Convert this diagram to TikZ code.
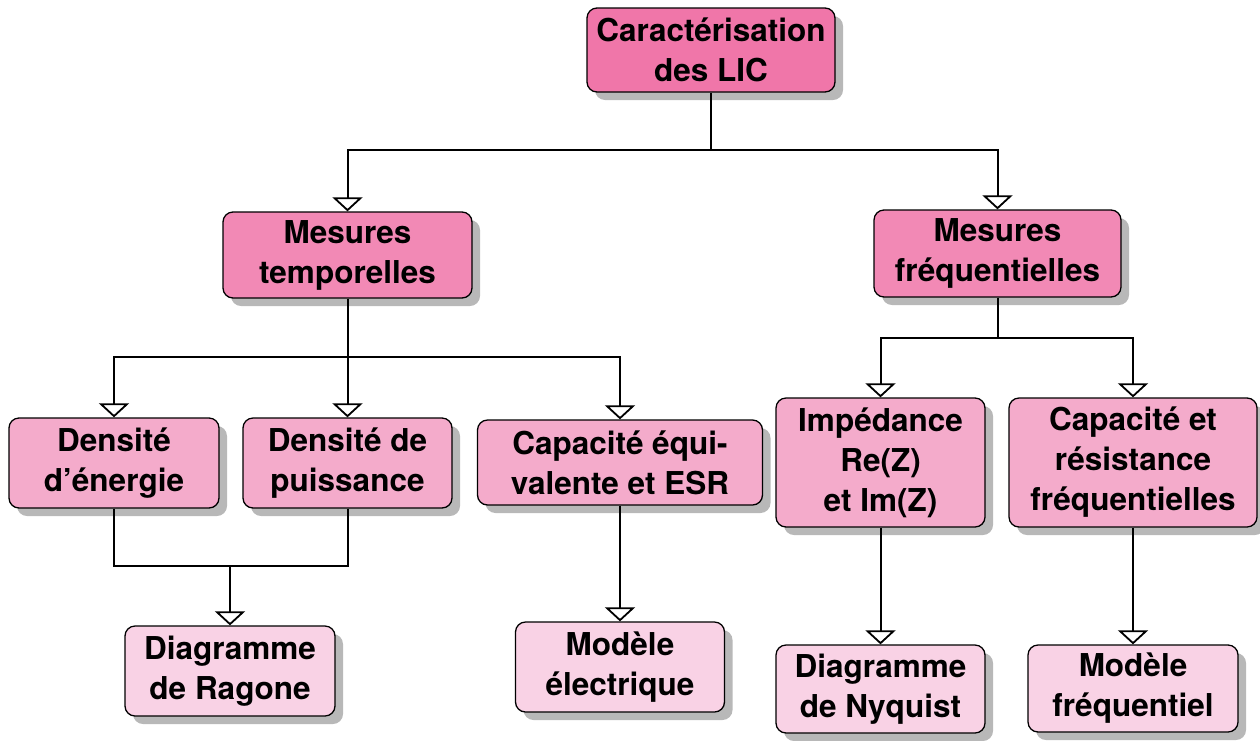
\documentclass[tikz,border=0pt]{standalone}
\usepackage{fontspec}
\setmainfont{TeX Gyre Heros}
\usetikzlibrary{arrows.meta,shadows}
\definecolor{cTop}{HTML}{F076A9}
\definecolor{cTwo}{HTML}{F289B5}
\definecolor{cThree}{HTML}{F4ABCB}
\definecolor{cFour}{HTML}{F9D2E5}
\tikzset{
  box/.style={draw=black, line width=1.3pt, rounded corners=10pt, align=center,
    inner sep=0pt, font=\fontsize{31.5}{40}\selectfont\bfseries,
    drop shadow={shadow xshift=8pt, shadow yshift=-8pt, fill=black!28, opacity=1}},
  conn/.style={line width=2pt, draw=black},
  arr/.style={conn, -{Triangle[open, width=30pt, length=14pt, line width=1.8pt, fill=white]}},
}
\begin{document}
\begin{tikzpicture}[x=1pt,y=-1pt]
\useasboundingbox (0,0) rectangle (1260,740);
% nodes
\node[box, fill=cTop, minimum width=248pt, minimum height=84pt] (top) at (711,50) {Caractérisation\\des LIC};
\node[box, fill=cTwo, minimum width=249pt, minimum height=86pt] (mt) at (347.5,255) {Mesures\\temporelles};
\node[box, fill=cTwo, minimum width=247pt, minimum height=87pt] (mf) at (997.5,253.5) {Mesures\\fréquentielles};
\node[box, fill=cThree, minimum width=210pt, minimum height=90pt] (de) at (114,463) {Densité\\d’énergie};
\node[box, fill=cThree, minimum width=209pt, minimum height=90pt] (dp) at (347.5,463) {Densité de\\puissance};
\node[box, fill=cThree, minimum width=285pt, minimum height=85pt] (ce) at (620,462.5) {Capacité équi-\\valente et ESR};
\node[box, fill=cThree, minimum width=209pt, minimum height=129pt] (imp) at (880.5,462.5) {Impédance\\Re(Z)\\et Im(Z)};
\node[box, fill=cThree, minimum width=248pt, minimum height=129pt] (cr) at (1133,462.5) {Capacité et\\résistance\\fréquentielles};
\node[box, fill=cFour, minimum width=210pt, minimum height=90pt] (rag) at (230,671) {Diagramme\\de Ragone};
\node[box, fill=cFour, minimum width=209pt, minimum height=90pt] (me) at (620,667) {Modèle\\électrique};
\node[box, fill=cFour, minimum width=209pt, minimum height=88pt] (nyq) at (880.5,689) {Diagramme\\de Nyquist};
\node[box, fill=cFour, minimum width=210pt, minimum height=87pt] (mfq) at (1133,688.5) {Modèle\\fréquentiel};
% junctions
\coordinate (j1) at (711,150);
\coordinate (j2) at (347.5,357);
\coordinate (j3) at (997.5,338);
\coordinate (j4) at (230,566);
% connectors
\draw[conn] (top) -- (j1);
\draw[arr] (j1) -| (mt);
\draw[arr] (j1) -| (mf);
\draw[conn] (mt) -- (j2);
\draw[arr] (j2) -| (de);
\draw[arr] (j2) -- (dp);
\draw[arr] (j2) -| (ce);
\draw[conn] (mf) -- (j3);
\draw[arr] (j3) -| (imp);
\draw[arr] (j3) -| (cr);
\draw[conn] (de) |- (j4);
\draw[conn] (dp) |- (j4);
\draw[arr] (j4) -- (rag);
\draw[arr] (ce) -- (me);
\draw[arr] (imp) -- (nyq);
\draw[arr] (cr) -- (mfq);
\end{tikzpicture}
\end{document}
